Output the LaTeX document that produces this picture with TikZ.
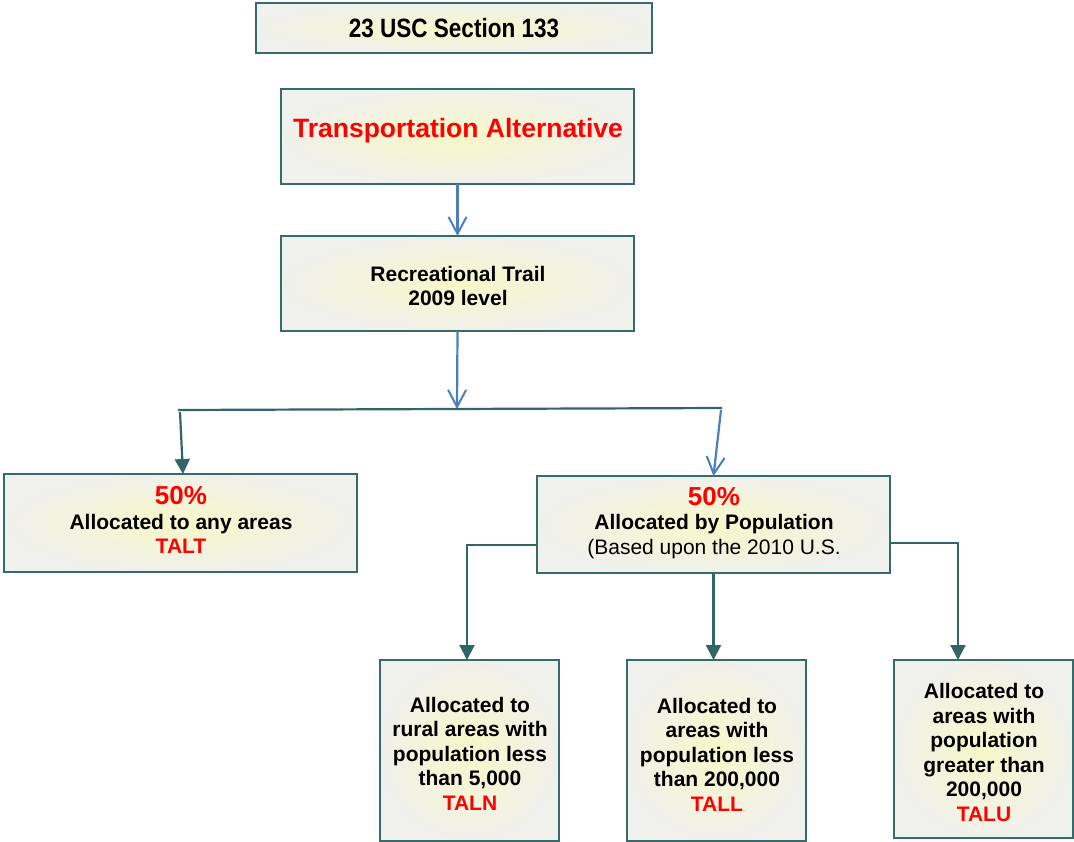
\documentclass[tikz,border=0pt]{standalone}
\usepackage{fontspec}
\usepackage{graphicx}
\setmainfont{Liberation Sans}
\usetikzlibrary{arrows.meta,calc}
\definecolor{boxline}{RGB}{55,106,106}
\definecolor{teal2}{RGB}{50,102,102}
\definecolor{blue2}{RGB}{74,126,190}
\definecolor{paper}{RGB}{240,240,236}
\definecolor{glow}{RGB}{247,247,200}
\definecolor{tred}{RGB}{255,0,0}
\begin{document}
\begin{tikzpicture}[x=1pt,y=-1pt,
  box/.style={draw=boxline, line width=2pt, inner color=glow, outer color=paper, inner sep=0pt, outer sep=0pt},
  txt/.style={align=center, inner sep=0pt, font=\fontsize{21}{24.5}\selectfont\bfseries},
  bluearrow/.style={draw=blue2, line width=2.2pt, -{Straight Barb[length=17pt,width=18pt,line width=2pt]}},
  tealline/.style={draw=teal2, line width=2.2pt},
  tealarrow/.style={draw=teal2, line width=2.2pt, -{Triangle[length=15pt,width=15pt]}}]
\useasboundingbox (0,0) rectangle (1074,841);
\fill[white] (0,0) rectangle (1074,841);
% boxes
\node[box, minimum width=396, minimum height=50] (top) at (454,28) {};
\node[box, minimum width=353, minimum height=95] (ta) at (457.5,136.5) {};
\node[box, minimum width=353, minimum height=95] (rt) at (457.5,283.5) {};
\node[box, minimum width=353, minimum height=98] (left) at (180.5,523) {};
\node[box, minimum width=353, minimum height=97] (right) at (713.5,524.5) {};
\node[box, minimum width=179, minimum height=181] (b1) at (469.5,750.5) {};
\node[box, minimum width=179, minimum height=181] (b2) at (716.5,750.5) {};
\node[box, minimum width=179, minimum height=178] (b3) at (983.5,749) {};
% texts
\node[txt, font=\fontsize{26.5}{30}\selectfont\bfseries] (toptxt) at (454,28) {\scalebox{0.85}[1]{23 USC Section 133}};
\node[txt, font=\fontsize{26.5}{30}\selectfont\bfseries, text=tred, anchor=base] (tatxt) at (458,137.5) {Transportation Alternative};
\node[txt] (rttxt) at (458,286) {Recreational Trail\\2009 level};
\node[txt] (lefttxt) at (181,520) {{\fontsize{26}{28}\selectfont\color{tred}50\%}\\Allocated to any areas\\{\color{tred}TALT}};
\node[txt] (righttxt) at (714,523) {{\fontsize{26}{28}\selectfont\color{tred}50\%}\\Allocated by Population\\{\mdseries(Based upon the 2010 U.S.}};
\node[txt] (b1txt) at (470,753.5) {Allocated to\\rural areas with\\population less\\than 5,000\\{\color{tred}TALN}};
\node[txt] (b2txt) at (717,754.5) {Allocated to\\areas with\\population less\\than 200,000\\{\color{tred}TALL}};
\node[txt] (b3txt) at (984,752.5) {Allocated to\\areas with\\population\\greater than\\200,000\\{\color{tred}TALU}};
% connectors
\coordinate (hub) at (457,409);
\coordinate (hl) at (178,410);
\coordinate (hr) at (722,408);
\coordinate (ltop) at (180,412);
\draw[bluearrow] (ta.south) -- (rt.north);
\draw[bluearrow] (rt.south) -- (hub);
\draw[tealline] (hl) -- (hr);
\draw[tealarrow] (ltop) -- ($(left.north)+(2.5,0)$);
\draw[bluearrow] ($(hr)+(-1,2)$) -- (right.north);
\draw[tealarrow] ($(right.west)+(0,20.5)$) -| ($(b1.north)+(-2.5,0)$);
\draw[tealarrow] (right.south) -- (right.south |- b2.north);
\draw[tealarrow] ($(right.east)+(0,18.5)$) -| ($(b3.north)+(-25.5,0)$);
\end{tikzpicture}
\end{document}
